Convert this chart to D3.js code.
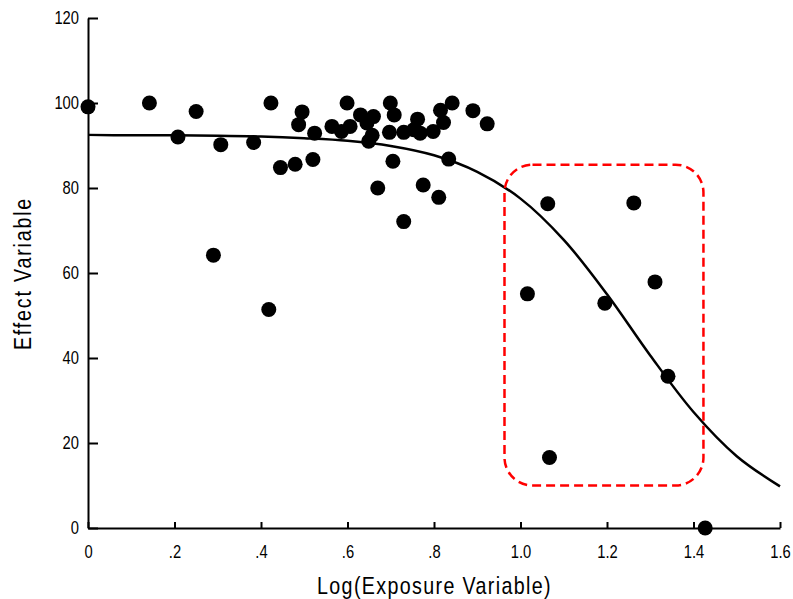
<!DOCTYPE html>
<html>
<head>
<meta charset="utf-8">
<script src="https://cdn.jsdelivr.net/npm/d3@7"></script>
<style>
  body { margin: 0; background: #fff; }
  text { font-family: "Liberation Sans", Arial, sans-serif; fill: #000; }
</style>
</head>
<body>
<script>
// observed points, log exposure vs effect
var exposure = [0, 0.142, 0.250, 0.208, 0.307, 0.383, 0.290, 0.418,
    0.423, 0.495, 0.487, 0.524, 0.445, 0.479, 0.520, 0.599, 0.564, 0.586,
    0.606, 0.630, 0.660, 0.645, 0.657, 0.649, 0.699, 0.708, 0.697, 0.730,
    0.762, 0.768, 0.753, 0.798, 0.815, 0.822, 0.842, 0.890, 0.923, 0.834,
    0.705, 0.670, 0.775, 0.811, 0.730,
    1.063, 1.262, 1.016, 1.195, 1.311, 1.341, 1.067, 1.427];
var effect = [99.1, 100, 98.0, 92.0, 90.2, 90.7, 64.2, 51.4,
    100, 97.9, 94.9, 92.9, 84.8, 85.6, 86.7, 100, 94.5, 93.3,
    94.5, 97.2, 96.8, 95.3, 92.4, 91.0, 100, 97.2, 93.1, 93.1,
    96.2, 92.9, 93.7, 93.3, 98.3, 95.4, 100, 98.2, 95.1, 86.8,
    86.3, 80.0, 80.7, 77.8, 72.1,
    76.3, 76.5, 55.1, 52.9, 57.9, 35.7, 16.6, 0];

// fitted curve
var curveX = [0, 0.1, 0.2, 0.3, 0.4, 0.5, 0.6, 0.7, 0.8, 0.9, 1.0, 1.1, 1.2, 1.3, 1.4, 1.5, 1.6];
var curveY = [92.5, 92.4, 92.4, 92.3, 92.1, 91.7, 91.1, 89.9, 87.7, 83.8, 77.5, 67.8, 55.0, 40.6, 27.3, 16.9, 9.8];

// highlight box (data units)
var boxX = [0.963, 1.423];
var boxY = [85.5, 10.0];

var xTicks = [0, 0.2, 0.4, 0.6, 0.8, 1.0, 1.2, 1.4, 1.6];
var xTickLabels = ["0", ".2", ".4", ".6", ".8", "1.0", "1.2", "1.4", "1.6"];
var yTicks = [0, 20, 40, 60, 80, 100, 120];

var width = 793, height = 599;
var squeeze = 0.82; // condensed look of the original font

var svg = d3.select("body").append("svg")
    .attr("width", width)
    .attr("height", height);

var x = d3.scaleLinear().domain([0, 1.6]).range([88, 780]);
var y = d3.scaleLinear().domain([0, 120]).range([528, 18]);

// axes
var yAxis = svg.append("g")
    .attr("transform", "translate(" + x(0) + ",0)")
    .call(d3.axisLeft(y).tickValues(yTicks).tickSizeInner(-10).tickSizeOuter(0).tickPadding(9));
var xAxis = svg.append("g")
    .attr("transform", "translate(0," + y(0) + ")")
    .call(d3.axisBottom(x).tickValues(xTicks)
        .tickFormat(function (d, i) { return xTickLabels[i]; })
        .tickSizeInner(-6).tickSizeOuter(0).tickPadding(17));

[xAxis, yAxis].forEach(function (g) {
    g.select(".domain").attr("stroke", "#000").attr("stroke-width", 2);
    g.selectAll(".tick line").attr("stroke", "#000").attr("stroke-width", 2);
    g.selectAll(".tick text")
        .style("font-family", '"Liberation Sans", Arial, sans-serif')
        .style("font-size", "18px")
        .attr("fill", "#000");
});
yAxis.selectAll(".tick text")
    .attr("x", -9 / squeeze)
    .attr("transform", "scale(" + squeeze + ",1)");
xAxis.selectAll(".tick text")
    .attr("transform", "scale(" + squeeze + ",1)");

// titles
svg.append("text")
    .attr("transform", "translate(434.5,594) scale(" + squeeze + ",1)")
    .attr("text-anchor", "middle")
    .style("font-size", "24px")
    .style("letter-spacing", "1.65px")
    .text("Log(Exposure Variable)");

svg.append("text")
    .attr("transform", "translate(31,273.5) rotate(-90) scale(" + squeeze + ",1)")
    .attr("text-anchor", "middle")
    .style("font-size", "24px")
    .style("letter-spacing", "2.2px")
    .text("Effect Variable");

// fitted curve
var line = d3.line()
    .x(function (d, i) { return x(curveX[i]); })
    .y(function (d) { return y(d); })
    .curve(d3.curveCatmullRom);

svg.append("path")
    .attr("d", line(curveY))
    .attr("fill", "none")
    .attr("stroke", "#000")
    .attr("stroke-width", 2.5);

// dashed highlight
svg.append("rect")
    .attr("x", x(boxX[0]))
    .attr("y", y(boxY[0]))
    .attr("width", x(boxX[1]) - x(boxX[0]))
    .attr("height", y(boxY[1]) - y(boxY[0]))
    .attr("rx", 28)
    .attr("ry", 28)
    .attr("fill", "none")
    .attr("stroke", "#ff0000")
    .attr("stroke-width", 2.5)
    .attr("stroke-dasharray", "9,5");

// points
svg.append("g")
    .selectAll("circle")
    .data(exposure)
    .enter()
    .append("circle")
    .attr("cx", function (d) { return x(d); })
    .attr("cy", function (d, i) { return y(effect[i]); })
    .attr("r", 7.5)
    .attr("fill", "#000");
</script>
</body>
</html>
